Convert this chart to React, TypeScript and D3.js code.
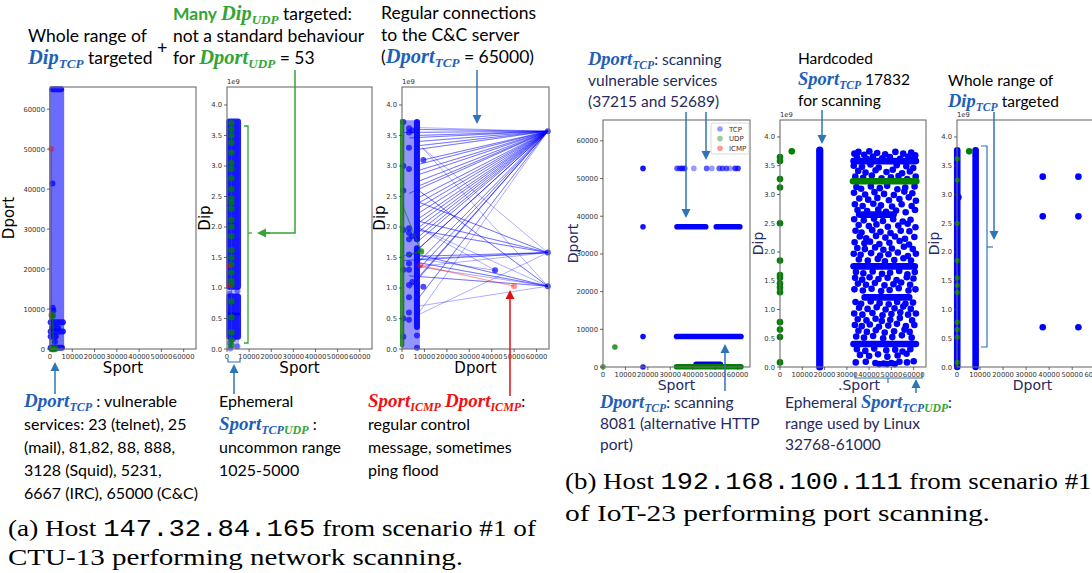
import React from 'react';
import * as d3 from 'd3';

// ---------------- shared axis data ----------------
const PORT_MAX = 65535;
const DIP_MAX = 4.295; // in units of 1e9
const portTicks = [0, 10000, 20000, 30000, 40000, 50000, 60000];
const dipTicks = [0, 0.5, 1.0, 1.5, 2.0, 2.5, 3.0, 3.5, 4.0];
const legendLabels = ['TCP', 'UDP', 'ICMP'];

// ---------------- (a) host 147.32.84.165 ----------------
// a1: Sport vs Dport
const a1TcpSportRange = [1025, 5000];
const a1TcpDportRange = [0, 65000];
const a1TcpRuns = [
  { v: 65000, from: 1025, to: 5000 },
  { v: 6667, from: 300, to: 5800 },
  { v: 5231, from: 1025, to: 3600 },
  { v: 4400, from: 300, to: 5800 },
  { v: 3128, from: 300, to: 2600 },
  { v: 300, from: 300, to: 5400 },
];
const a1TcpPoints = [[1100, 41400], [1200, 10300], [1500, 9600], [2200, 1800], [900, 8300]];
const a1IcmpPoints = [[600, 50000], [600, 8500]];
const a1UdpPoints = [[1200, 8400], [1500, 53], [2300, 53], [900, 53]];

// a2: Sport vs Dip (1e9)
const a2LineSport = [500, 5500];
const a2LineDip = [0, 3.75];
const a2TcpBlocks = [
  { from: 1.02, to: 3.73 },
  { from: 0.6, to: 0.86 },
  { from: 0.2, to: 0.55 },
];
const a2TcpPoints = [[1100, 0.9], [4800, 0.95], [1300, 0.1], [4700, 0.04], [2600, 0.16], [1500, 0.01]];
const a2UdpSport = 2000;
const a2UdpDips = [3.7, 3.6, 3.5, 3.38, 3.22, 3.05, 2.95, 2.8, 2.62, 2.47, 2.4, 2.3, 2.12, 2.0, 1.85, 1.62, 1.5, 1.38, 1.25, 1.12, 1.05, 0.78, 0.52, 0.27, 0.15, 0.06];
const a2IcmpPoints = [[700, 1.36], [700, 1.04]];

// a3: Dport vs Dip (1e9)
const a3LineDport = [0, 8000];
const a3LineDip = [0, 3.75];
const a3TcpPath = [
  [6667, 3.63], [65000, 3.57], [6667, 3.6], [65000, 3.57], [800, 3.55], [65000, 3.57], [6667, 3.5], [65000, 3.57],
  [3128, 3.46], [65000, 3.57], [6667, 3.4], [65000, 3.57], [6667, 3.33], [65000, 3.57], [6667, 3.27], [65000, 3.57],
  [9500, 3.1], [65000, 3.57], [6667, 3.02], [65000, 3.57], [6667, 2.92], [65000, 3.57], [6667, 2.85], [65000, 3.57],
  [6667, 2.74], [65000, 3.57], [6667, 2.66], [65000, 3.57], [3128, 2.55], [65000, 3.57], [6667, 2.47], [65000, 3.57],
  [6667, 2.38], [65000, 3.57], [6667, 2.3], [65000, 3.57], [6667, 2.21], [65000, 3.57], [6667, 2.12], [65000, 3.57],
  [6667, 2.05], [65000, 3.57], [6667, 1.97], [65000, 3.57], [6667, 1.9], [65000, 3.57], [6667, 1.82], [65000, 3.57],
  [6667, 1.75], [65000, 3.57], [6667, 1.62], [65000, 3.57], [3128, 1.5], [65000, 3.57], [6667, 1.4], [65000, 3.57],
  [6667, 1.28], [65000, 3.57], [6667, 1.15], [65000, 3.57], [3128, 0.98], [65000, 3.57], [6667, 0.8], [65000, 3.57],
  [6667, 0.55], [65000, 1.58], [6667, 2.1], [65000, 1.58], [6667, 1.95], [65000, 1.58], [800, 1.45], [65000, 1.58],
  [6667, 1.52], [65000, 1.58], [6667, 2.42], [65000, 1.58], [9000, 3.3], [65000, 1.03], [6667, 2.62], [65000, 1.03],
  [6667, 1.55], [65000, 1.03], [6667, 1.42], [65000, 1.03], [3128, 1.2], [65000, 1.03], [6667, 2.0], [41500, 1.29],
  [6667, 1.48], [65000, 1.58], [6667, 1.35], [65000, 1.03], [6667, 0.7],
];
const a3TcpRuns = [
  { v: 6667, from: 1.8, to: 3.72 },
  { v: 6667, from: 0.95, to: 1.65 },
  { v: 6667, from: 0.36, to: 0.9 },
];
const a3TcpPoints = [
  [6667, 0.22], [6667, 0.02], [3128, 3.62], [3128, 3.55], [3128, 3.3], [3128, 2.95], [3128, 1.98], [3128, 1.9],
  [3128, 1.8], [3128, 1.55], [3128, 1.4], [3128, 1.3], [3128, 1.05], [3128, 0.85], [3128, 0.6], [3128, 0.48],
  [4600, 3.58], [4600, 1.85], [4600, 1.1], [600, 3.72], [600, 3.0], [600, 2.6], [600, 1.95], [600, 1.3],
  [600, 0.5], [600, 0.2], [9500, 3.1], [9500, 1.02], [41500, 1.29], [65000, 3.57], [65000, 1.58], [65000, 1.03],
];
const a3UdpColumn = { v: 53, from: 0.06, to: 3.74 };
const a3UdpPath = [[300, 2.35], [8500, 1.6], [300, 1.52]];
const a3IcmpPath = [[8000, 1.37], [50000, 1.03]];

// ---------------- (b) host 192.168.100.111 ----------------
// b1: Sport vs Dport ; [sport, dport, overlapping flows]
const b1TcpPoints = [
  [17832, 52689, 5], [33000, 52689, 2], [34200, 52689, 2], [35200, 52689, 3], [36400, 52689, 3], [40500, 52689, 1],
  [46200, 52689, 2], [48500, 52689, 1], [51800, 52689, 2], [53300, 52689, 2], [55000, 52689, 2], [56600, 52689, 1],
  [58900, 52689, 3], [60200, 52689, 3], [17832, 37215, 5], [17832, 8081, 6], [17832, 0, 4],
];
const b1TcpRuns = [
  { v: 37215, from: 33000, to: 45800 },
  { v: 37215, from: 50500, to: 61000 },
  { v: 8081, from: 32800, to: 61500 },
  { v: 700, from: 41500, to: 52300 },
];
const b1UdpRuns = [{ v: 53, from: 32768, to: 61500 }];
const b1UdpPoints = [[0, 53, 2], [5300, 5300, 3]];

// b2: Sport vs Dip (1e9)
const b2UdpSport0Dips = [3.65, 3.58, 3.27, 3.12, 2.5, 1.85, 1.6, 1.55, 1.45, 1.38, 1.3, 0.78, 0.65, 0.52, 0.08];
const b2UdpPoints = [[5300, 3.75]];
const b2TcpColumn = { v: 17832, from: 0.0, to: 3.77 };
const b2TcpRuns = [
  { v: 3.58, from: 33000, to: 61000 },
  { v: 2.65, from: 35500, to: 51000 },
  { v: 1.75, from: 33000, to: 60500 },
  { v: 1.21, from: 38000, to: 58000 },
  { v: 0.4, from: 33000, to: 61000 },
];
const b2UdpRuns = [{ v: 3.23, from: 32768, to: 61200 }];
const b2TcpCloud = [
  [33400, 3.71], [35200, 3.74], [37800, 3.69], [40100, 3.75], [43600, 3.72], [47200, 3.7], [51800, 3.74], [55300, 3.71], [58900, 3.73], [60700, 3.68],
  [34600, 3.64], [38900, 3.62], [41700, 3.66], [45900, 3.63], [49300, 3.65], [53900, 3.62], [57600, 3.66], [60200, 3.63],
  [33100, 3.5], [36800, 3.48], [40600, 3.52], [44300, 3.47], [52400, 3.51], [56700, 3.49], [59800, 3.46],
  [35100, 3.41], [38400, 3.38], [42900, 3.42], [47800, 3.39], [50600, 3.43], [54800, 3.37], [58300, 3.4],
  [33800, 3.31], [37300, 3.29], [41200, 3.33], [45600, 3.28], [49800, 3.3], [53200, 3.32], [57100, 3.27], [60900, 3.31],
  [34300, 3.13], [36400, 3.1], [40800, 3.14], [44800, 3.11], [48100, 3.15], [52700, 3.09], [56200, 3.12], [60400, 3.14],
  [33200, 3.03], [38200, 3.0], [42400, 3.04], [46700, 3.01], [51100, 2.99], [55800, 3.05], [59400, 3.02],
  [35600, 2.93], [39600, 2.91], [43700, 2.94], [48900, 2.9], [53600, 2.92], [57800, 2.95], [61000, 2.89],
  [33600, 2.83], [37100, 2.8], [41900, 2.84], [45300, 2.81], [50300, 2.79], [54600, 2.83], [59100, 2.8],
  [34800, 2.73], [39100, 2.71], [44100, 2.74], [47600, 2.7], [52100, 2.72], [56400, 2.69], [60600, 2.73],
  [33300, 2.57], [37600, 2.55], [42200, 2.58], [46200, 2.54], [50800, 2.57], [55100, 2.53], [58600, 2.56],
  [35300, 2.47], [39900, 2.45], [43300, 2.48], [48400, 2.44], [53100, 2.46], [57300, 2.49], [60800, 2.43],
  [33900, 2.37], [36600, 2.34], [41400, 2.38], [45100, 2.35], [49600, 2.33], [54200, 2.37], [58100, 2.36],
  [35800, 2.27], [38700, 2.24], [43100, 2.28], [47300, 2.25], [51600, 2.27], [56100, 2.23], [60300, 2.26],
  [33500, 2.17], [37900, 2.15], [40400, 2.18], [44600, 2.14], [49100, 2.16], [53700, 2.19], [57900, 2.13],
  [34700, 2.07], [38100, 2.05], [42700, 2.08], [46400, 2.04], [50200, 2.06], [55600, 2.09], [59600, 2.05],
  [33100, 1.97], [36200, 1.95], [40900, 1.98], [44900, 1.94], [48700, 1.96], [52900, 1.99], [57400, 1.93], [61000, 1.97],
  [35400, 1.87], [39400, 1.85], [43900, 1.88], [47100, 1.84], [51300, 1.86], [55400, 1.89], [58800, 1.85],
  [34100, 1.65], [37400, 1.63], [41600, 1.66], [45800, 1.62], [49400, 1.64], [53500, 1.67], [57200, 1.61], [60500, 1.65],
  [33700, 1.55], [36900, 1.52], [40200, 1.56], [44200, 1.53], [48300, 1.55], [52300, 1.51], [56900, 1.56], [59900, 1.54],
  [35000, 1.45], [38600, 1.43], [42600, 1.46], [46900, 1.42], [50900, 1.44], [54400, 1.47], [58400, 1.43],
  [33400, 1.35], [37200, 1.33], [41100, 1.36], [45400, 1.32], [49200, 1.34], [53300, 1.37], [57700, 1.33], [60800, 1.35],
  [33900, 1.13], [36400, 1.1], [40700, 1.14], [44700, 1.11], [48800, 1.09], [52600, 1.13], [56300, 1.1], [59700, 1.12],
  [35500, 1.03], [39300, 1.01], [43400, 1.04], [47400, 1.0], [51400, 1.02], [55300, 1.05], [58700, 1.01],
  [33300, 0.93], [37000, 0.91], [41500, 0.94], [46000, 0.9], [50000, 0.92], [54000, 0.95], [57500, 0.91], [61000, 0.93],
  [34900, 0.83], [38800, 0.81], [42900, 0.84], [45700, 0.8], [49500, 0.82], [53800, 0.85], [59300, 0.81],
  [33600, 0.73], [36700, 0.71], [40300, 0.74], [44400, 0.7], [48600, 0.72], [52500, 0.75], [56500, 0.71], [60300, 0.73],
  [35200, 0.63], [39000, 0.61], [43000, 0.64], [47000, 0.6], [51200, 0.62], [55900, 0.65], [58200, 0.61],
  [34200, 0.53], [37700, 0.51], [41800, 0.54], [46300, 0.5], [50400, 0.52], [54700, 0.55], [59100, 0.51],
  [34500, 0.31], [38300, 0.28], [42300, 0.32], [47700, 0.29], [51700, 0.3], [55000, 0.27], [58500, 0.31],
  [35900, 0.21], [40000, 0.19], [44000, 0.22], [48200, 0.18], [52800, 0.2], [56800, 0.23],
  [34000, 0.08], [38500, 0.09], [42800, 0.07], [44500, 0.05], [46500, 0.06], [48000, 0.05], [50000, 0.07], [51500, 0.05], [53600, 0.09], [57000, 0.08], [60000, 0.1],
];

// b3: Dport vs Dip (1e9)
const b3TcpColumns = [
  { v: 100, from: 0.0, to: 3.77 },
  { v: 8081, from: 0.0, to: 3.77 },
];
const b3UdpDport0Dips = [3.62, 3.25, 2.5, 1.85, 1.55, 1.42, 1.3, 0.78, 0.65, 0.52, 0.08];
const b3UdpPoints = [[5300, 3.75]];
const b3TcpPoints = [[37215, 3.31], [52689, 3.31], [37215, 2.62], [52689, 2.62], [37215, 0.69], [52689, 0.69], [600, 2.95]];

// ---------------- styling ----------------
const SANS = 'Lato, "Open Sans", sans-serif';
const MATH = '"Liberation Serif", "DejaVu Serif", serif';
const TICKF = '"DejaVu Sans", sans-serif';
const CAPF = '"Liberation Serif", serif';
const MONO = '"Liberation Mono", "DejaVu Sans Mono", monospace';
const BLUE = '#0000ff';
const GREEN = '#008000';
const RED = '#ff0000';
const TXT_BLUE = '#1f5fb8';
const TXT_GREEN = '#33a532';
const TXT_RED = '#ee1111';
const NAVY = '#262a5e';
const ARROW_BLUE = '#2e75b6';

type Box = { x0: number; x1: number; y0: number; y1: number };
const A1: Box = { x0: 50, x1: 196, y0: 87, y1: 349 };
const A2: Box = { x0: 227, x1: 372, y0: 87, y1: 349 };
const A3: Box = { x0: 402, x1: 549, y0: 87, y1: 349 };
const B1: Box = { x0: 603, x1: 750, y0: 120, y1: 367 };
const B2: Box = { x0: 780, x1: 926, y0: 120, y1: 367 };
const B3: Box = { x0: 957, x1: 1108, y0: 120, y1: 367 };

type Sc = d3.ScaleLinear<number, number>;

function Axes(props: {
  box: Box; yMax: number; yTicks: number[]; yFmt: (v: number) => string; xLabel: string; yLabel: string;
  labelColor: string; sci?: boolean; yLabelOff: number; xLabelDx?: number; xLabelOff?: number; labelSize?: number;
  children: (x: Sc, y: Sc) => React.ReactNode;
}) {
  const { box, yMax, yTicks, yFmt, xLabel, yLabel, labelColor, sci, yLabelOff } = props;
  const ls = props.labelSize || 15;
  const x = d3.scaleLinear().domain([0, PORT_MAX]).range([box.x0, box.x1]);
  const y = d3.scaleLinear().domain([0, yMax]).range([box.y1, box.y0]);
  return (
    <g>
      {props.children(x, y)}
      <rect x={box.x0} y={box.y0} width={box.x1 - box.x0} height={box.y1 - box.y0} fill="none" stroke="#6e6e6e" strokeWidth={1.1} />
      {portTicks.map((t) => (
        <g key={'xt' + t}>
          <line x1={x(t)} x2={x(t)} y1={box.y1} y2={box.y1 + 3} stroke="#444" strokeWidth={0.8} />
          <text x={x(t)} y={box.y1 + 10} fontSize={6.8} fontFamily={TICKF} fill="#333" textAnchor="middle">{t}</text>
        </g>
      ))}
      {yTicks.map((t) => (
        <g key={'yt' + t}>
          <line x1={box.x0 - 3} x2={box.x0} y1={y(t)} y2={y(t)} stroke="#444" strokeWidth={0.8} />
          <text x={box.x0 - 5} y={y(t) + 2.5} fontSize={6.8} fontFamily={TICKF} fill="#333" textAnchor="end">{yFmt(t)}</text>
        </g>
      ))}
      {sci && <text x={box.x0} y={box.y0 - 3} fontSize={6.8} fontFamily={TICKF} fill="#333">1e9</text>}
      <text x={(box.x0 + box.x1) / 2 + (props.xLabelDx || 0)} y={box.y1 + (props.xLabelOff || 24)} fontSize={ls} fontFamily={TICKF} fill={labelColor} textAnchor="middle">{xLabel}</text>
      <text transform={`translate(${box.x0 - yLabelOff},${(box.y0 + box.y1) / 2}) rotate(-90)`} fontSize={ls} fontFamily={TICKF} fill={labelColor} textAnchor="middle">{yLabel}</text>
    </g>
  );
}

type Seg = { t: string; k?: 'n' | 'b' | 'm' | 's'; c?: string };
function Rich({ x, y, segs, size = 16 }: { x: number; y: number; segs: Seg[]; size?: number }) {
  let shifted = false;
  const spans = segs.map((s, i) => {
    const k = s.k || 'n';
    let dy: number | undefined;
    if (k === 's' && !shifted) { dy = 4; shifted = true; }
    else if (k !== 's' && shifted) { dy = -4; shifted = false; }
    const st: React.CSSProperties =
      k === 'm' ? { fontFamily: MATH, fontStyle: 'italic', fontWeight: 700, fontSize: size + 3 }
        : k === 's' ? { fontFamily: MATH, fontStyle: 'italic', fontWeight: 700, fontSize: size * 0.75 }
          : k === 'b' ? { fontFamily: SANS, fontWeight: 700, fontSize: size }
            : { fontFamily: SANS, fontSize: size };
    return <tspan key={i} dy={dy} fill={s.c || '#000'} style={st}>{s.t}</tspan>;
  });
  return <text x={x} y={y} style={{ whiteSpace: 'pre' }}>{spans}</text>;
}

function Arrow({ x1, y1, x2, y2, color, w = 1.5 }: { x1: number; y1: number; x2: number; y2: number; color: string; w?: number }) {
  const a = Math.atan2(y2 - y1, x2 - x1);
  const L = 9, H = 4.5;
  const bx = x2 - L * Math.cos(a), by = y2 - L * Math.sin(a);
  const p1 = [bx + H * Math.sin(a), by - H * Math.cos(a)];
  const p2 = [bx - H * Math.sin(a), by + H * Math.cos(a)];
  return (
    <g>
      <line x1={x1} y1={y1} x2={bx} y2={by} stroke={color} strokeWidth={w} />
      <polygon points={`${x2},${y2} ${p1[0]},${p1[1]} ${p2[0]},${p2[1]}`} fill={color} />
    </g>
  );
}

const hRun = (x: Sc, y: Sc, r: { v: number; from: number; to: number }, color: string, rad: number, op = 1, key = '') => (
  <line key={key} x1={x(r.from)} x2={x(r.to)} y1={y(r.v)} y2={y(r.v)} stroke={color} strokeOpacity={op} strokeWidth={rad * 2} strokeLinecap="round" />
);
const vRun = (x: Sc, y: Sc, r: { v: number; from: number; to: number }, color: string, rad: number, op = 1, key = '') => (
  <line key={key} x1={x(r.v)} x2={x(r.v)} y1={y(r.from)} y2={y(r.to)} stroke={color} strokeOpacity={op} strokeWidth={rad * 2} strokeLinecap="round" />
);

const portFmt = (v: number) => String(v);
const dipFmt = (v: number) => v.toFixed(1);

export default function App() {
  const line = d3.line<number[]>();
  const TOP = 17.5;
  const BS = 15.5;
  return (
    <svg width={1092} height={573} style={{ position: 'absolute', left: 0, top: 0, background: '#fff' }}>
      <rect width={1092} height={573} fill="#fff" />

      {/* ================= (a1) ================= */}
      <Axes box={A1} yMax={PORT_MAX} yTicks={portTicks} yFmt={portFmt} xLabel="Sport" yLabel="Dport" labelColor="#000" yLabelOff={36}>
        {(x, y) => (
          <g>
            <rect x={x(a1TcpSportRange[0]) - 3} y={y(a1TcpDportRange[1])} width={x(a1TcpSportRange[1]) - x(a1TcpSportRange[0]) + 6}
              height={y(a1TcpDportRange[0]) - y(a1TcpDportRange[1])} fill={BLUE} fillOpacity={0.58} />
            {a1TcpRuns.map((r, i) => hRun(x, y, r, BLUE, 3, 0.85, 'r' + i))}
            {a1TcpPoints.map((p, i) => <circle key={i} cx={x(p[0])} cy={y(p[1])} r={3} fill={BLUE} fillOpacity={0.75} />)}
            <path d={line(a1IcmpPoints.map((p) => [x(p[0]), y(p[1])]))!} stroke={RED} strokeOpacity={0.6} fill="none" strokeWidth={1} />
            {a1IcmpPoints.map((p, i) => <circle key={i} cx={x(p[0])} cy={y(p[1])} r={3} fill={RED} fillOpacity={0.45} />)}
            <path d={line(a1UdpPoints.map((p) => [x(p[0]), y(p[1])]))!} stroke={GREEN} strokeOpacity={0.8} fill="none" strokeWidth={1.2} />
            {a1UdpPoints.map((p, i) => <circle key={i} cx={x(p[0])} cy={y(p[1])} r={3.4} fill={GREEN} fillOpacity={0.75} />)}
          </g>
        )}
      </Axes>

      {/* ================= (a2) ================= */}
      <Axes box={A2} yMax={DIP_MAX} yTicks={dipTicks} yFmt={dipFmt} xLabel="Sport" yLabel="Dip" labelColor="#000" sci yLabelOff={17}>
        {(x, y) => (
          <g>
            <rect x={x(a2LineSport[0])} y={y(a2LineDip[1])} width={x(a2LineSport[1]) - x(a2LineSport[0])}
              height={y(a2LineDip[0]) - y(a2LineDip[1])} fill={BLUE} fillOpacity={0.3} />
            {a2TcpBlocks.map((b, i) => (
              <rect key={i} x={x(1025) - 3} y={y(b.to) - 3} width={x(5000) - x(1025) + 6} height={y(b.from) - y(b.to) + 6} rx={3}
                fill={BLUE} fillOpacity={0.88} />
            ))}
            {a2TcpPoints.map((p, i) => <circle key={i} cx={x(p[0])} cy={y(p[1])} r={3} fill={BLUE} fillOpacity={0.45} />)}
            <path d={line(a2UdpDips.map((d) => [x(a2UdpSport), y(d)]))!} stroke={GREEN} strokeOpacity={0.6} fill="none" strokeWidth={1} />
            {a2UdpDips.map((d, i) => <circle key={i} cx={x(a2UdpSport)} cy={y(d)} r={3.2} fill={GREEN} fillOpacity={0.75} />)}
            {a2IcmpPoints.map((p, i) => <circle key={i} cx={x(p[0])} cy={y(p[1])} r={2.6} fill={RED} fillOpacity={0.45} />)}
          </g>
        )}
      </Axes>

      {/* ================= (a3) ================= */}
      <Axes box={A3} yMax={DIP_MAX} yTicks={dipTicks} yFmt={dipFmt} xLabel="Dport" yLabel="Dip" labelColor="#000" sci yLabelOff={17}>
        {(x, y) => (
          <g>
            <rect x={x(a3LineDport[0])} y={y(a3LineDip[1])} width={x(a3LineDport[1]) - x(a3LineDport[0])}
              height={y(a3LineDip[0]) - y(a3LineDip[1])} fill={BLUE} fillOpacity={0.42} />
            <path d={line(a3TcpPath.map((p) => [x(p[0]), y(p[1])]))!} stroke={BLUE} strokeOpacity={0.32} fill="none" strokeWidth={1} />
            {a3TcpRuns.map((r, i) => vRun(x, y, r, BLUE, 3, 0.9, 'r' + i))}
            {a3TcpPoints.map((p, i) => <circle key={i} cx={x(p[0])} cy={y(p[1])} r={3} fill={BLUE} fillOpacity={0.7} />)}
            {vRun(x, y, a3UdpColumn, GREEN, 2.2, 0.85, 'g')}
            <path d={line(a3UdpPath.map((p) => [x(p[0]), y(p[1])]))!} stroke={GREEN} strokeOpacity={0.6} fill="none" strokeWidth={1.2} />
            <circle cx={x(a3UdpPath[1][0])} cy={y(a3UdpPath[1][1])} r={3.2} fill={GREEN} fillOpacity={0.75} />
            <path d={line(a3IcmpPath.map((p) => [x(p[0]), y(p[1])]))!} stroke={RED} strokeOpacity={0.4} fill="none" strokeWidth={1.2} />
            {a3IcmpPath.map((p, i) => <circle key={i} cx={x(p[0])} cy={y(p[1])} r={3} fill={RED} fillOpacity={0.4} />)}
          </g>
        )}
      </Axes>

      {/* ================= (b1) ================= */}
      <Axes box={B1} yMax={PORT_MAX} yTicks={portTicks} yFmt={portFmt} xLabel="Sport" yLabel="Dport" labelColor={NAVY} yLabelOff={25} xLabelOff={23} labelSize={14}>
        {(x, y) => (
          <g>
            {b1TcpRuns.map((r, i) => hRun(x, y, r, BLUE, 2.8, 1, 'r' + i))}
            {b1TcpPoints.map((p, i) => <circle key={i} cx={x(p[0])} cy={y(p[1])} r={2.8} fill={BLUE} fillOpacity={1 - Math.pow(0.6, p[2])} />)}
            {b1UdpRuns.map((r, i) => hRun(x, y, r, GREEN, 2.8, 1, 'u' + i))}
            {b1UdpPoints.map((p, i) => <circle key={i} cx={x(p[0])} cy={y(p[1])} r={2.8} fill={GREEN} fillOpacity={1 - Math.pow(0.6, p[2])} />)}
          </g>
        )}
      </Axes>
      <g>
        <rect x={711} y={123} width={38} height={31} rx={2} fill="#fff" stroke="#d0d0d0" strokeWidth={0.8} />
        {legendLabels.map((l, i) => (
          <g key={l}>
            <circle cx={720} cy={129 + i * 9.6} r={2.8} fill={[BLUE, GREEN, RED][i]} fillOpacity={0.4} />
            <text x={729} y={131.5 + i * 9.6} fontSize={7} fontFamily={TICKF} fill="#333">{l}</text>
          </g>
        ))}
      </g>

      {/* ================= (b2) ================= */}
      <Axes box={B2} yMax={DIP_MAX} yTicks={dipTicks} yFmt={dipFmt} xLabel=".Sport" yLabel="Dip" labelColor={NAVY} sci yLabelOff={17} xLabelDx={6} xLabelOff={23} labelSize={14}>
        {(x, y) => (
          <g>
            {b2UdpSport0Dips.map((d, i) => <circle key={'g' + i} cx={x(0)} cy={y(d)} r={3.3} fill={GREEN} />)}
            {b2UdpPoints.map((p, i) => <circle key={'gp' + i} cx={x(p[0])} cy={y(p[1])} r={3.3} fill={GREEN} />)}
            {vRun(x, y, b2TcpColumn, BLUE, 3.6, 1, 'c')}
            {b2TcpCloud.map((p, i) => <circle key={i} cx={x(p[0])} cy={y(p[1])} r={3.3} fill={BLUE} />)}
            {b2TcpRuns.map((r, i) => hRun(x, y, r, BLUE, 3.3, 1, 'r' + i))}
            {b2UdpRuns.map((r, i) => hRun(x, y, r, GREEN, 3.3, 1, 'u' + i))}
          </g>
        )}
      </Axes>

      {/* ================= (b3) ================= */}
      <Axes box={B3} yMax={DIP_MAX} yTicks={dipTicks} yFmt={dipFmt} xLabel="Dport" yLabel="Dip" labelColor={NAVY} sci yLabelOff={18} xLabelOff={23} labelSize={14}>
        {(x, y) => (
          <g>
            {b3TcpColumns.map((r, i) => vRun(x, y, r, BLUE, 3.3, 1, 'c' + i))}
            {b3UdpDport0Dips.map((d, i) => <circle key={'g' + i} cx={x(100)} cy={y(d)} r={2.6} fill={GREEN} />)}
            {b3UdpPoints.map((p, i) => <circle key={'gp' + i} cx={x(p[0])} cy={y(p[1])} r={3.3} fill={GREEN} />)}
            {b3TcpPoints.map((p, i) => <circle key={i} cx={x(p[0])} cy={y(p[1])} r={3.3} fill={BLUE} />)}
          </g>
        )}
      </Axes>

      {/* ================= annotations (a) ================= */}
      <Rich x={28} y={42} size={TOP} segs={[{ t: 'Whole range of' }]} />
      <Rich x={28} y={64} size={TOP} segs={[{ t: 'Dip', k: 'm', c: TXT_BLUE }, { t: 'TCP', k: 's', c: TXT_BLUE }, { t: ' targeted' }]} />
      <text x={157} y={54} fontSize={18} fontFamily={SANS}>+</text>
      <Rich x={173} y={20} size={TOP} segs={[{ t: 'Many ', k: 'b', c: TXT_GREEN }, { t: 'Dip', k: 'm', c: TXT_GREEN }, { t: 'UDP', k: 's', c: TXT_GREEN }, { t: ' targeted:' }]} />
      <Rich x={173} y={42} size={TOP} segs={[{ t: 'not a standard behaviour' }]} />
      <Rich x={173} y={64} size={TOP} segs={[{ t: 'for ' }, { t: 'Dport', k: 'm', c: TXT_GREEN }, { t: 'UDP', k: 's', c: TXT_GREEN }, { t: ' = 53' }]} />
      <Rich x={381} y={19} size={TOP} segs={[{ t: 'Regular connections' }]} />
      <Rich x={381} y={41} size={TOP} segs={[{ t: 'to the C&C server' }]} />
      <Rich x={381} y={63} size={TOP} segs={[{ t: '(' }, { t: 'Dport', k: 'm', c: TXT_BLUE }, { t: 'TCP', k: 's', c: TXT_BLUE }, { t: ' = 65000)' }]} />

      {/* green connector + bracket */}
      <polyline points="295,70 295,233 266,233" fill="none" stroke={TXT_GREEN} strokeWidth={1.5} />
      <Arrow x1={270} y1={233} x2={257} y2={233} color={TXT_GREEN} />
      <polyline points="244,126 248,126 248,343 244,343" fill="none" stroke={TXT_GREEN} strokeWidth={1.3} />
      <line x1={248} x2={252} y1={233} y2={233} stroke={TXT_GREEN} strokeWidth={1.3} />
      <Arrow x1={477} y1={70} x2={477} y2={124} color={ARROW_BLUE} />
      <Arrow x1={55} y1={394} x2={55} y2={362} color={ARROW_BLUE} />
      <polyline points="228,359 228,362 240,362 240,359" fill="none" stroke={ARROW_BLUE} strokeWidth={1.2} />
      <Arrow x1={234} y1={394} x2={234} y2={364} color={ARROW_BLUE} />
      <Arrow x1={510} y1={396} x2={510} y2={290} color="#e01010" />

      <Rich x={24} y={407} segs={[{ t: 'Dport', k: 'm', c: TXT_BLUE }, { t: 'TCP', k: 's', c: TXT_BLUE }, { t: ' : vulnerable' }]} />
      <Rich x={24} y={430} segs={[{ t: 'services: 23 (telnet), 25' }]} />
      <Rich x={24} y={453} segs={[{ t: '(mail), 81,82, 88, 888,' }]} />
      <Rich x={24} y={476} segs={[{ t: '3128 (Squid), 5231,' }]} />
      <Rich x={24} y={499} segs={[{ t: '6667 (IRC), 65000 (C&C)' }]} />
      <Rich x={219} y={407} segs={[{ t: 'Ephemeral' }]} />
      <Rich x={219} y={430} segs={[{ t: 'Sport', k: 'm', c: TXT_BLUE }, { t: 'TCP', k: 's', c: TXT_BLUE }, { t: 'UDP', k: 's', c: TXT_GREEN }, { t: ' :' }]} />
      <Rich x={219} y={453} segs={[{ t: 'uncommon range' }]} />
      <Rich x={219} y={476} segs={[{ t: '1025-5000' }]} />
      <Rich x={368} y={407} segs={[{ t: 'Sport', k: 'm', c: TXT_RED }, { t: 'ICMP', k: 's', c: TXT_RED }, { t: ' ' }, { t: 'Dport', k: 'm', c: TXT_RED }, { t: 'ICMP', k: 's', c: TXT_RED }, { t: ':' }]} />
      <Rich x={368} y={430} segs={[{ t: 'regular control' }]} />
      <Rich x={368} y={453} segs={[{ t: 'message, sometimes' }]} />
      <Rich x={368} y={476} segs={[{ t: 'ping flood' }]} />

      <text x={8} y={536} fontFamily={CAPF} fontSize={23} textLength={528} lengthAdjust="spacingAndGlyphs" style={{ whiteSpace: 'pre' }}>
        (a) Host <tspan fontFamily={MONO}>147.32.84.165</tspan> from scenario #1 of
      </text>
      <text x={8} y={565} fontFamily={CAPF} fontSize={23} textLength={455} lengthAdjust="spacingAndGlyphs">CTU-13 performing network scanning.</text>

      {/* ================= annotations (b) ================= */}
      <Rich x={588} y={65} size={BS} segs={[{ t: 'Dport', k: 'm', c: TXT_BLUE }, { t: 'TCP', k: 's', c: TXT_BLUE }, { t: ': scanning', c: NAVY }]} />
      <Rich x={588} y={86} size={BS} segs={[{ t: 'vulnerable services', c: NAVY }]} />
      <Rich x={588} y={107} size={BS} segs={[{ t: '(37215 and 52689)', c: NAVY }]} />
      <Arrow x1={686} y1={112} x2={686} y2={218} color={ARROW_BLUE} />
      <Arrow x1={706} y1={112} x2={706} y2={160} color={ARROW_BLUE} />
      <Arrow x1={725} y1={391} x2={725} y2={344} color={ARROW_BLUE} />
      <Rich x={600} y={408} size={BS} segs={[{ t: 'Dport', k: 'm', c: TXT_BLUE }, { t: 'TCP', k: 's', c: TXT_BLUE }, { t: ': scanning', c: NAVY }]} />
      <Rich x={600} y={429} size={BS} segs={[{ t: '8081 (alternative HTTP', c: NAVY }]} />
      <Rich x={600} y={450} size={BS} segs={[{ t: 'port)', c: NAVY }]} />

      <Rich x={798} y={64} size={BS} segs={[{ t: 'Hardcoded' }]} />
      <Rich x={798} y={85} size={BS} segs={[{ t: 'Sport', k: 'm', c: TXT_BLUE }, { t: 'TCP', k: 's', c: TXT_BLUE }, { t: ' 17832' }]} />
      <Rich x={798} y={106} size={BS} segs={[{ t: 'for scanning' }]} />
      <Arrow x1={822} y1={110} x2={822} y2={144} color={ARROW_BLUE} />
      <Rich x={948} y={86} size={BS} segs={[{ t: 'Whole range of' }]} />
      <Rich x={948} y={107} size={BS} segs={[{ t: 'Dip', k: 'm', c: TXT_BLUE }, { t: 'TCP', k: 's', c: TXT_BLUE }, { t: ' targeted' }]} />
      <Arrow x1={994} y1={112} x2={994} y2={240} color={ARROW_BLUE} />
      <polyline points="981,146 987,146 987,347 981,347" fill="none" stroke={ARROW_BLUE} strokeWidth={1.2} />
      <line x1={987} x2={993} y1={247} y2={247} stroke={ARROW_BLUE} strokeWidth={1.2} />
      <polyline points="855,373 855,378 922,378 922,373" fill="none" stroke={ARROW_BLUE} strokeWidth={1.2} />
      <line x1={888} x2={888} y1={378} y2={383} stroke={ARROW_BLUE} strokeWidth={1.2} />
      <Arrow x1={916} y1={393} x2={916} y2={379} color={ARROW_BLUE} />
      <Rich x={785} y={408} size={BS} segs={[{ t: 'Ephemeral ', c: NAVY }, { t: 'Sport', k: 'm', c: TXT_BLUE }, { t: 'TCP', k: 's', c: TXT_BLUE }, { t: 'UDP', k: 's', c: TXT_GREEN }, { t: ':', c: NAVY }]} />
      <Rich x={785} y={429} size={BS} segs={[{ t: 'range used by Linux', c: NAVY }]} />
      <Rich x={785} y={450} size={BS} segs={[{ t: '32768-61000', c: NAVY }]} />

      <text x={565} y={489} fontFamily={CAPF} fontSize={23} textLength={540} lengthAdjust="spacingAndGlyphs" style={{ whiteSpace: 'pre' }}>
        (b) Host <tspan fontFamily={MONO}>192.168.100.111</tspan> from scenario #17
      </text>
      <text x={565} y={521} fontFamily={CAPF} fontSize={23} textLength={425} lengthAdjust="spacingAndGlyphs">of IoT-23 performing port scanning.</text>
    </svg>
  );
}
